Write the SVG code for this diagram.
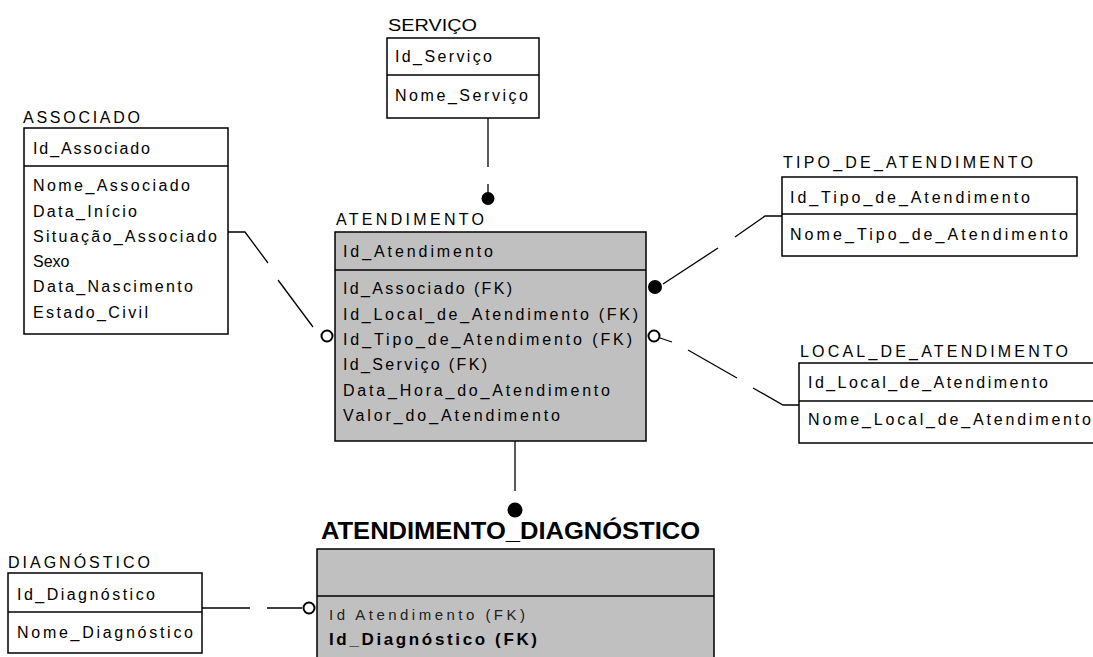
<svg xmlns="http://www.w3.org/2000/svg" width="1093" height="657" viewBox="0 0 1093 657">
  <style>
    .box { fill: #ffffff; stroke: #000; stroke-width: 1.5; }
    .box.dep { fill: #c0c0c0; }
    .sep { stroke: #000; stroke-width: 1.5; }
    .t { font-family: "Liberation Sans", Arial, sans-serif; font-size: 16px; fill: #000; }
    .lbl { font-family: "Liberation Sans", Arial, sans-serif; font-size: 16px; fill: #000; }
    .big { font-family: "Liberation Sans", Arial, sans-serif; font-size: 24px; font-weight: bold; fill: #000; }
    .thin { font-family: "Liberation Sans", Arial, sans-serif; font-size: 15px; fill: #222; }
    .bold { font-family: "Liberation Sans", Arial, sans-serif; font-size: 17px; font-weight: bold; fill: #000; }
    .rel line, .rel polyline { stroke: #000; stroke-width: 1.3; fill: none; }
    .dot { fill: #000; }
    .hollow { fill: #fff; stroke: #000; stroke-width: 2; }
  </style>

  <!-- entities -->
  <g id="servico">
    <text class="lbl" x="388" y="31" textLength="89" lengthAdjust="spacingAndGlyphs">SERVIÇO</text>
    <rect class="box" x="387" y="38" width="152" height="80"/>
    <line class="sep" x1="387" y1="75" x2="539" y2="75"/>
    <text class="t" x="395" y="62" textLength="97" lengthAdjust="spacing">Id_Serviço</text>
    <text class="t" x="395" y="101" textLength="133" lengthAdjust="spacing">Nome_Serviço</text>
  </g>

  <g id="associado">
    <text class="lbl" x="23" y="123" textLength="117" lengthAdjust="spacing">ASSOCIADO</text>
    <rect class="box" x="24" y="128" width="204" height="206"/>
    <line class="sep" x1="24" y1="166" x2="228" y2="166"/>
    <text class="t" x="33" y="154" textLength="117" lengthAdjust="spacing">Id_Associado</text>
    <text class="t" x="33" y="191" textLength="157" lengthAdjust="spacing">Nome_Associado</text>
    <text class="t" x="33" y="217" textLength="104" lengthAdjust="spacing">Data_Início</text>
    <text class="t" x="33" y="242" textLength="184" lengthAdjust="spacing">Situação_Associado</text>
    <text class="t" x="33" y="267">Sexo</text>
    <text class="t" x="33" y="292" textLength="160" lengthAdjust="spacing">Data_Nascimento</text>
    <text class="t" x="33" y="318" textLength="115" lengthAdjust="spacing">Estado_Civil</text>
  </g>

  <g id="atendimento">
    <text class="lbl" x="336" y="225" textLength="148" lengthAdjust="spacing">ATENDIMENTO</text>
    <rect class="box dep" x="335" y="232" width="311" height="209"/>
    <line class="sep" x1="335" y1="270" x2="646" y2="270"/>
    <text class="t" x="343" y="257" textLength="150" lengthAdjust="spacing">Id_Atendimento</text>
    <text class="t" x="343" y="294" textLength="169" lengthAdjust="spacing">Id_Associado (FK)</text>
    <text class="t" x="343" y="320" textLength="295" lengthAdjust="spacing">Id_Local_de_Atendimento (FK)</text>
    <text class="t" x="343" y="345" textLength="289" lengthAdjust="spacing">Id_Tipo_de_Atendimento (FK)</text>
    <text class="t" x="343" y="370" textLength="144" lengthAdjust="spacing">Id_Serviço (FK)</text>
    <text class="t" x="343" y="396" textLength="267" lengthAdjust="spacing">Data_Hora_do_Atendimento</text>
    <text class="t" x="343" y="421" textLength="217" lengthAdjust="spacing">Valor_do_Atendimento</text>
  </g>

  <g id="tipo_de_atendimento">
    <text class="lbl" x="783" y="168" textLength="250" lengthAdjust="spacing">TIPO_DE_ATENDIMENTO</text>
    <rect class="box" x="782" y="177" width="295" height="79"/>
    <line class="sep" x1="782" y1="214" x2="1077" y2="214"/>
    <text class="t" x="790" y="203" textLength="240" lengthAdjust="spacing">Id_Tipo_de_Atendimento</text>
    <text class="t" x="790" y="240" textLength="278" lengthAdjust="spacing">Nome_Tipo_de_Atendimento</text>
  </g>

  <g id="local_de_atendimento">
    <text class="lbl" x="800" y="357" textLength="268" lengthAdjust="spacing">LOCAL_DE_ATENDIMENTO</text>
    <rect class="box" x="799" y="363" width="310" height="80"/>
    <line class="sep" x1="799" y1="401" x2="1109" y2="401"/>
    <text class="t" x="808" y="388" textLength="240" lengthAdjust="spacing">Id_Local_de_Atendimento</text>
    <text class="t" x="808" y="425" textLength="283" lengthAdjust="spacing">Nome_Local_de_Atendimento</text>
  </g>

  <g id="diagnostico">
    <text class="lbl" x="8" y="568" textLength="142" lengthAdjust="spacing">DIAGNÓSTICO</text>
    <rect class="box" x="8" y="573" width="194" height="80"/>
    <line class="sep" x1="8" y1="612" x2="202" y2="612"/>
    <text class="t" x="17" y="600" textLength="138" lengthAdjust="spacing">Id_Diagnóstico</text>
    <text class="t" x="17" y="638" textLength="176" lengthAdjust="spacing">Nome_Diagnóstico</text>
  </g>

  <g id="atendimento_diagnostico">
    <text class="big" x="321" y="539" textLength="379" lengthAdjust="spacingAndGlyphs">ATENDIMENTO_DIAGNÓSTICO</text>
    <rect class="box dep" x="317" y="549" width="397" height="130"/>
    <line class="sep" x1="317" y1="596" x2="714" y2="596"/>
    <text class="thin" x="329" y="620" textLength="196" lengthAdjust="spacing">Id Atendimento (FK)</text>
    <text class="bold" x="329" y="645" textLength="208" lengthAdjust="spacing">Id_Diagnóstico (FK)</text>
  </g>

  <!-- relationships -->
  <g id="connectors" class="rel">
    <!-- SERVIÇO to ATENDIMENTO -->
    <line x1="488" y1="118" x2="488" y2="167"/>
    <line x1="488" y1="184" x2="488" y2="198"/>
    <circle class="dot" cx="488" cy="198.5" r="6.5"/>

    <!-- ASSOCIADO to ATENDIMENTO -->
    <polyline points="228,232 245,232 268,263"/>
    <line x1="278" y1="280" x2="313" y2="327"/>
    <circle class="hollow" cx="327" cy="336" r="5.5"/>

    <!-- TIPO_DE_ATENDIMENTO to ATENDIMENTO -->
    <polyline points="782,216 765,216 735,237"/>
    <line x1="718" y1="248" x2="663" y2="284"/>
    <circle class="dot" cx="655" cy="287" r="7"/>

    <!-- LOCAL_DE_ATENDIMENTO to ATENDIMENTO -->
    <line x1="660" y1="338" x2="672" y2="342"/>
    <line x1="688" y1="350" x2="737" y2="378"/>
    <polyline points="753,388 783,405 799,405"/>
    <circle class="hollow" cx="654" cy="336" r="5.5"/>

    <!-- ATENDIMENTO to ATENDIMENTO_DIAGNÓSTICO -->
    <line x1="515" y1="441" x2="515" y2="491"/>
    <circle class="dot" cx="515" cy="510" r="7.5"/>

    <!-- DIAGNÓSTICO to ATENDIMENTO_DIAGNÓSTICO -->
    <line x1="202" y1="608" x2="250" y2="608"/>
    <line x1="267" y1="608" x2="302" y2="608"/>
    <circle class="hollow" cx="309" cy="608" r="5.5"/>
  </g>
</svg>
